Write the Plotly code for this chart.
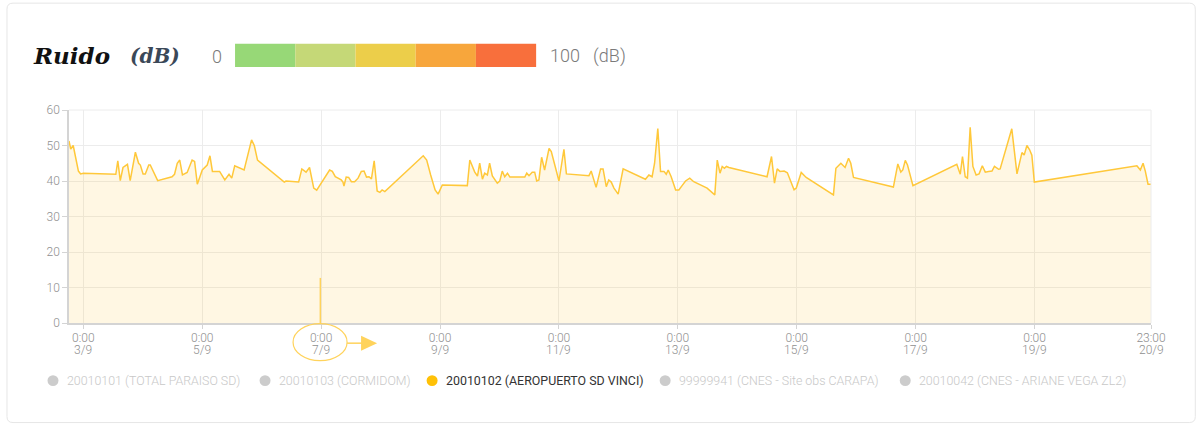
import plotly.graph_objects as go

# ---------------- data ----------------
timestamps = [
    "2023-09-02 18:12", "2023-09-02 18:54", "2023-09-02 19:54", "2023-09-02 21:18", "2023-09-02 22:00",
    "2023-09-02 22:54", "2023-09-03 00:00", "2023-09-03 13:06", "2023-09-03 13:54", "2023-09-03 14:54",
    "2023-09-03 16:00", "2023-09-03 17:48", "2023-09-03 18:54", "2023-09-03 21:00", "2023-09-03 22:18",
    "2023-09-03 23:00", "2023-09-04 00:06", "2023-09-04 01:00", "2023-09-04 02:24", "2023-09-04 03:00",
    "2023-09-04 04:06", "2023-09-04 04:54", "2023-09-04 06:00", "2023-09-04 11:48", "2023-09-04 12:48",
    "2023-09-04 13:54", "2023-09-04 14:54", "2023-09-04 16:00", "2023-09-04 17:54", "2023-09-04 19:54",
    "2023-09-04 20:54", "2023-09-04 22:00", "2023-09-05 00:00", "2023-09-05 02:00", "2023-09-05 03:06",
    "2023-09-05 04:06", "2023-09-05 07:00", "2023-09-05 09:06", "2023-09-05 10:48", "2023-09-05 11:54",
    "2023-09-05 13:06", "2023-09-05 16:54", "2023-09-05 18:18", "2023-09-05 19:54", "2023-09-05 21:00",
    "2023-09-05 22:18", "2023-09-06 09:06", "2023-09-06 09:48", "2023-09-06 14:54", "2023-09-06 16:12",
    "2023-09-06 17:54", "2023-09-06 19:18", "2023-09-06 21:00", "2023-09-06 22:12", "2023-09-07 03:24",
    "2023-09-07 04:30", "2023-09-07 05:42", "2023-09-07 08:06", "2023-09-07 08:48", "2023-09-07 09:12",
    "2023-09-07 10:06", "2023-09-07 11:06", "2023-09-07 12:12", "2023-09-07 13:30", "2023-09-07 14:54",
    "2023-09-07 16:12", "2023-09-07 17:18", "2023-09-07 18:18", "2023-09-07 19:18", "2023-09-07 20:18",
    "2023-09-07 21:24", "2023-09-07 22:36", "2023-09-07 23:42", "2023-09-08 00:36", "2023-09-08 01:42",
    "2023-09-08 17:12", "2023-09-08 18:36", "2023-09-08 19:36", "2023-09-08 20:12", "2023-09-08 22:00",
    "2023-09-08 23:12", "2023-09-09 00:54", "2023-09-09 11:00", "2023-09-09 12:00", "2023-09-09 14:00",
    "2023-09-09 15:06", "2023-09-09 16:00", "2023-09-09 17:06", "2023-09-09 18:00", "2023-09-09 19:06",
    "2023-09-09 20:00", "2023-09-09 21:06", "2023-09-09 23:06", "2023-09-10 00:06", "2023-09-10 01:06",
    "2023-09-10 02:06", "2023-09-10 03:12", "2023-09-10 04:12", "2023-09-10 10:12", "2023-09-10 11:00",
    "2023-09-10 11:54", "2023-09-10 13:12", "2023-09-10 14:12", "2023-09-10 15:00", "2023-09-10 15:54",
    "2023-09-10 17:00", "2023-09-10 18:12", "2023-09-10 20:00", "2023-09-10 20:54", "2023-09-11 00:00",
    "2023-09-11 02:00", "2023-09-11 03:00", "2023-09-11 12:06", "2023-09-11 13:00", "2023-09-11 14:06",
    "2023-09-11 15:00", "2023-09-11 16:48", "2023-09-11 17:48", "2023-09-11 19:06", "2023-09-11 20:06",
    "2023-09-11 21:06", "2023-09-11 22:12", "2023-09-11 23:54", "2023-09-12 01:54", "2023-09-12 10:54",
    "2023-09-12 12:18", "2023-09-12 13:36", "2023-09-12 14:36", "2023-09-12 15:54", "2023-09-12 17:00",
    "2023-09-12 18:24", "2023-09-12 19:18", "2023-09-12 20:06", "2023-09-12 21:18", "2023-09-12 23:06",
    "2023-09-13 00:24", "2023-09-13 01:42", "2023-09-13 03:06", "2023-09-13 04:48", "2023-09-13 06:24",
    "2023-09-13 11:48", "2023-09-13 14:54", "2023-09-13 15:54", "2023-09-13 17:00", "2023-09-13 17:54",
    "2023-09-13 18:48", "2023-09-13 19:36", "2023-09-13 20:36", "2023-09-14 12:00", "2023-09-14 13:48",
    "2023-09-14 15:00", "2023-09-14 16:06", "2023-09-14 17:12", "2023-09-14 18:54", "2023-09-14 20:12",
    "2023-09-14 21:30", "2023-09-14 22:54", "2023-09-14 23:48", "2023-09-15 00:42", "2023-09-15 01:48",
    "2023-09-15 03:48", "2023-09-15 14:48", "2023-09-15 15:48", "2023-09-15 17:48", "2023-09-15 19:30",
    "2023-09-15 20:54", "2023-09-15 21:48", "2023-09-15 22:54", "2023-09-16 15:00", "2023-09-16 16:48",
    "2023-09-16 18:00", "2023-09-16 18:48", "2023-09-16 19:48", "2023-09-16 20:42", "2023-09-16 22:54",
    "2023-09-17 16:36", "2023-09-17 18:00", "2023-09-17 18:54", "2023-09-17 20:00", "2023-09-17 20:54",
    "2023-09-17 22:00", "2023-09-17 23:06", "2023-09-18 00:24", "2023-09-18 01:36", "2023-09-18 02:54",
    "2023-09-18 04:06", "2023-09-18 05:24", "2023-09-18 06:48", "2023-09-18 07:48", "2023-09-18 09:30",
    "2023-09-18 10:06", "2023-09-18 14:48", "2023-09-18 16:54", "2023-09-18 18:54", "2023-09-18 19:48",
    "2023-09-18 20:54", "2023-09-18 22:00", "2023-09-18 22:54", "2023-09-18 23:54", "2023-09-20 17:18",
    "2023-09-20 18:42", "2023-09-20 19:48", "2023-09-20 20:42", "2023-09-20 21:48", "2023-09-20 23:00",
]
ruido_db = [
    51.3, 49.0, 50.0, 45.5, 42.8,
    42.0, 42.2, 41.9, 45.7, 40.1,
    43.8, 44.7, 40.1, 48.1, 45.0,
    44.5, 42.0, 42.0, 44.5, 44.5,
    42.7, 41.9, 40.1, 41.2, 41.9,
    45.0, 45.9, 41.7, 42.4, 45.9,
    45.5, 39.1, 43.1, 44.5, 47.1,
    42.7, 42.7, 40.3, 41.9, 40.8,
    44.3, 43.1, 46.9, 51.6, 50.0,
    45.9, 39.7, 40.0, 39.7, 43.4,
    42.5, 43.8, 38.0, 37.4, 43.1,
    42.7, 41.2, 40.3, 39.7, 38.6,
    41.1, 41.0, 39.8, 39.8, 40.8,
    42.7, 42.8, 41.1, 41.2, 40.6,
    45.7, 37.2, 36.8, 37.5, 37.0,
    47.1, 45.9, 42.8, 41.7, 37.5,
    36.3, 38.9, 38.7, 45.9, 42.5,
    41.4, 45.0, 40.5, 42.2, 41.7,
    45.0, 41.4, 39.4, 40.0, 42.8,
    41.2, 42.2, 41.1, 41.1, 42.2,
    41.5, 42.5, 42.5, 40.0, 40.3,
    46.7, 43.1, 49.2, 48.3, 40.0,
    48.9, 42.0, 41.5, 42.8, 39.8,
    38.2, 43.4, 43.4, 38.4, 40.3,
    39.7, 38.0, 36.3, 43.4, 40.5,
    41.7, 41.2, 45.0, 54.8, 42.7,
    42.7, 41.9, 43.1, 41.2, 37.5,
    37.5, 38.7, 40.0, 40.8, 39.8,
    38.0, 36.1, 45.9, 42.2, 44.1,
    43.6, 44.1, 43.8, 41.2, 46.9,
    39.4, 43.4, 42.7, 42.8, 42.3,
    39.9, 37.5, 38.0, 39.8, 42.4,
    41.0, 36.1, 43.6, 45.0, 43.8,
    46.4, 45.0, 41.0, 38.3, 44.8,
    42.5, 43.1, 45.8, 44.5, 38.7,
    44.7, 41.9, 46.9, 41.2, 40.8,
    55.1, 44.1, 41.7, 42.0, 44.3,
    42.5, 42.7, 42.8, 44.1, 43.3,
    43.4, 54.7, 42.0, 48.0, 47.3,
    50.0, 48.8, 47.3, 39.7, 44.3,
    43.1, 45.0, 42.8, 39.1, 39.1,
]

tick_dates = ["2023-09-03", "2023-09-05", "2023-09-07", "2023-09-09", "2023-09-11",
              "2023-09-13", "2023-09-15", "2023-09-17", "2023-09-19", "2023-09-20 23:00"]
tick_times = ["0:00", "0:00", "0:00", "0:00", "0:00", "0:00", "0:00", "0:00", "0:00", "23:00"]
tick_days = ["3/9", "5/9", "7/9", "9/9", "11/9", "13/9", "15/9", "17/9", "19/9", "20/9"]
y_ticks = [0, 10, 20, 30, 40, 50, 60]

marker_time = "2023-09-06 23:40"
marker_value = 12.7

scale_colors = ["#97d877", "#c5d877", "#ecce4a", "#f7a63c", "#f86f3c"]
scale_min_label = "0"
scale_max_label = "100   (dB)"

station_names = ["20010101 (TOTAL PARAISO SD)", "20010103 (CORMIDOM)",
                 "20010102 (AEROPUERTO SD VINCI)", "99999941 (CNES - Site obs CARAPA)",
                 "20010042 (CNES - ARIANE VEGA ZL2)"]
station_active = [False, False, True, False, False]

# ---------------- geometry helpers ----------------
W, H = 1200, 425
PL, PR, PT, PB = 69, 1150.7, 110, 323.3


def px(x):
    return (x - PL) / (PR - PL)


def py(y):
    return (PB - y) / (PB - PT)


LINE = "#FFC83A"
ACCENT = "#FFD35C"
TICK_COLOR = "#8f8f8f"

fig = go.Figure()
fig.add_trace(go.Scatter(
    x=timestamps, y=ruido_db, mode="lines",
    line=dict(color=LINE, width=1.5),
    fill="tozeroy", fillcolor="rgba(255,200,58,0.14)",
    showlegend=False, hoverinfo="x+y",
))

shapes = []
annotations = []

# card border (rounded)
r = 6
x0, x1, y0, y1 = px(7), px(1195), py(3), py(423)
rx, ry = r / (PR - PL), r / (PB - PT)
shapes.append(dict(
    type="path", xref="paper", yref="paper", layer="below",
    path=(f"M {x0+rx},{y0} L {x1-rx},{y0} Q {x1},{y0} {x1},{y0-ry} "
          f"L {x1},{y1+ry} Q {x1},{y1} {x1-rx},{y1} L {x0+rx},{y1} "
          f"Q {x0},{y1} {x0},{y1+ry} L {x0},{y0-ry} Q {x0},{y0} {x0+rx},{y0} Z"),
    line=dict(color="#e6e6e6", width=1), fillcolor="rgba(0,0,0,0)",
))

# title
annotations.append(dict(xref="paper", yref="paper", x=px(31), y=py(55), xanchor="left", yanchor="middle",
                        text="<b><i>Ruido</i></b>", showarrow=False,
                        font=dict(family="DejaVu Serif", size=23, color="#111111")))
annotations.append(dict(xref="paper", yref="paper", x=px(128), y=py(56), xanchor="left", yanchor="middle",
                        text="<b><i>(dB)</i></b>", showarrow=False,
                        font=dict(family="DejaVu Serif", size=20, color="#3b4858")))

# color scale bar
bx0, bx1 = 235, 536
seg = (bx1 - bx0) / len(scale_colors)
for i, c in enumerate(scale_colors):
    shapes.append(dict(type="rect", xref="paper", yref="paper",
                       x0=px(bx0 + i * seg), x1=px(bx0 + (i + 1) * seg),
                       y0=py(67), y1=py(43.7), fillcolor=c, line=dict(width=0)))
annotations.append(dict(xref="paper", yref="paper", x=px(216.5), y=py(56), xanchor="center", yanchor="middle",
                        text=scale_min_label, showarrow=False,
                        font=dict(family="Roboto", size=18, color="#7a7a7a", weight=300)))
annotations.append(dict(xref="paper", yref="paper", x=px(548), y=py(56), xanchor="left", yanchor="middle",
                        text=scale_max_label.replace(" ", "&nbsp;"), showarrow=False,
                        font=dict(family="Roboto", size=18, color="#7a7a7a", weight=300)))

# second line of x tick labels (day/month)
for d, t in zip(tick_dates, tick_days):
    annotations.append(dict(xref="x", yref="paper", x=d, y=py(350), xanchor="center", yanchor="middle",
                            text=t, showarrow=False,
                            font=dict(family="Roboto", size=12, color=TICK_COLOR, weight=300)))

# marker line at current time
shapes.append(dict(type="line", xref="x", yref="y", x0=marker_time, x1=marker_time,
                   y0=0, y1=marker_value, line=dict(color=ACCENT, width=1.5)))
# circle around tick label and arrow
shapes.append(dict(type="circle", xref="paper", yref="paper",
                   x0=px(293), x1=px(347), y0=py(361), y1=py(324),
                   line=dict(color=ACCENT, width=1.2)))
shapes.append(dict(type="line", xref="paper", yref="paper",
                   x0=px(347), x1=px(362), y0=py(343.5), y1=py(343.5),
                   line=dict(color=ACCENT, width=1.5)))
shapes.append(dict(type="path", xref="paper", yref="paper",
                   path=f"M {px(361)},{py(336)} L {px(377)},{py(343.5)} L {px(361)},{py(351)} Z",
                   fillcolor=ACCENT, line=dict(width=0)))

# legend (drawn)
leg_circles = [53, 265, 432, 665, 905]
leg_y = 381
for cx, name, active in zip(leg_circles, station_names, station_active):
    col = "#FFC107" if active else "#cccccc"
    shapes.append(dict(type="circle", xref="paper", yref="paper",
                       x0=px(cx - 5.5), x1=px(cx + 5.5), y0=py(leg_y + 5.5), y1=py(leg_y - 5.5),
                       fillcolor=col, line=dict(width=0)))
    annotations.append(dict(xref="paper", yref="paper", x=px(cx + 12), y=py(leg_y), xanchor="left",
                            yanchor="middle", text=name, showarrow=False,
                            font=dict(family="Roboto", size=12.4, color="#333333" if active else "#c8c8c8",
                                      weight=400 if active else 300)))

fig.update_layout(
    width=W, height=H,
    margin=dict(l=PL, r=W - PR, t=PT, b=H - PB, pad=0),
    paper_bgcolor="white", plot_bgcolor="white",
    shapes=shapes, annotations=annotations,
    showlegend=False,
    xaxis=dict(
        type="date", range=["2023-09-02 18:12", "2023-09-20 23:00"],
        tickvals=tick_dates, ticktext=tick_times,
        showgrid=True, gridcolor="#ececec", gridwidth=1,
        showline=True, linecolor="#d4d4d4", linewidth=1.5,
        ticks="outside", ticklen=4, tickcolor="#d4d4d4",
        ticklabelstandoff=-1,
        tickfont=dict(family="Roboto", size=12, color=TICK_COLOR, weight=300),
        zeroline=False, mirror=False,
    ),
    yaxis=dict(
        range=[0, 60], tickvals=y_ticks,
        showgrid=True, gridcolor="#ececec", gridwidth=1,
        showline=True, linecolor="#d4d4d4", linewidth=1.5,
        ticks="outside", ticklen=5, tickcolor="#d4d4d4",
        tickfont=dict(family="Roboto", size=12, color=TICK_COLOR, weight=300),
        zeroline=False,
    ),
)
# right and top border lines of the plot area
fig.add_shape(type="line", xref="paper", yref="paper", x0=1, x1=1, y0=0, y1=1,
              line=dict(color="#ececec", width=1))
fig.add_shape(type="line", xref="paper", yref="paper", x0=0, x1=1, y0=1, y1=1,
              line=dict(color="#ececec", width=1))

fig.write_html("out.html", config={"displayModeBar": False},
               post_script="document.body.style.margin='0px';")
